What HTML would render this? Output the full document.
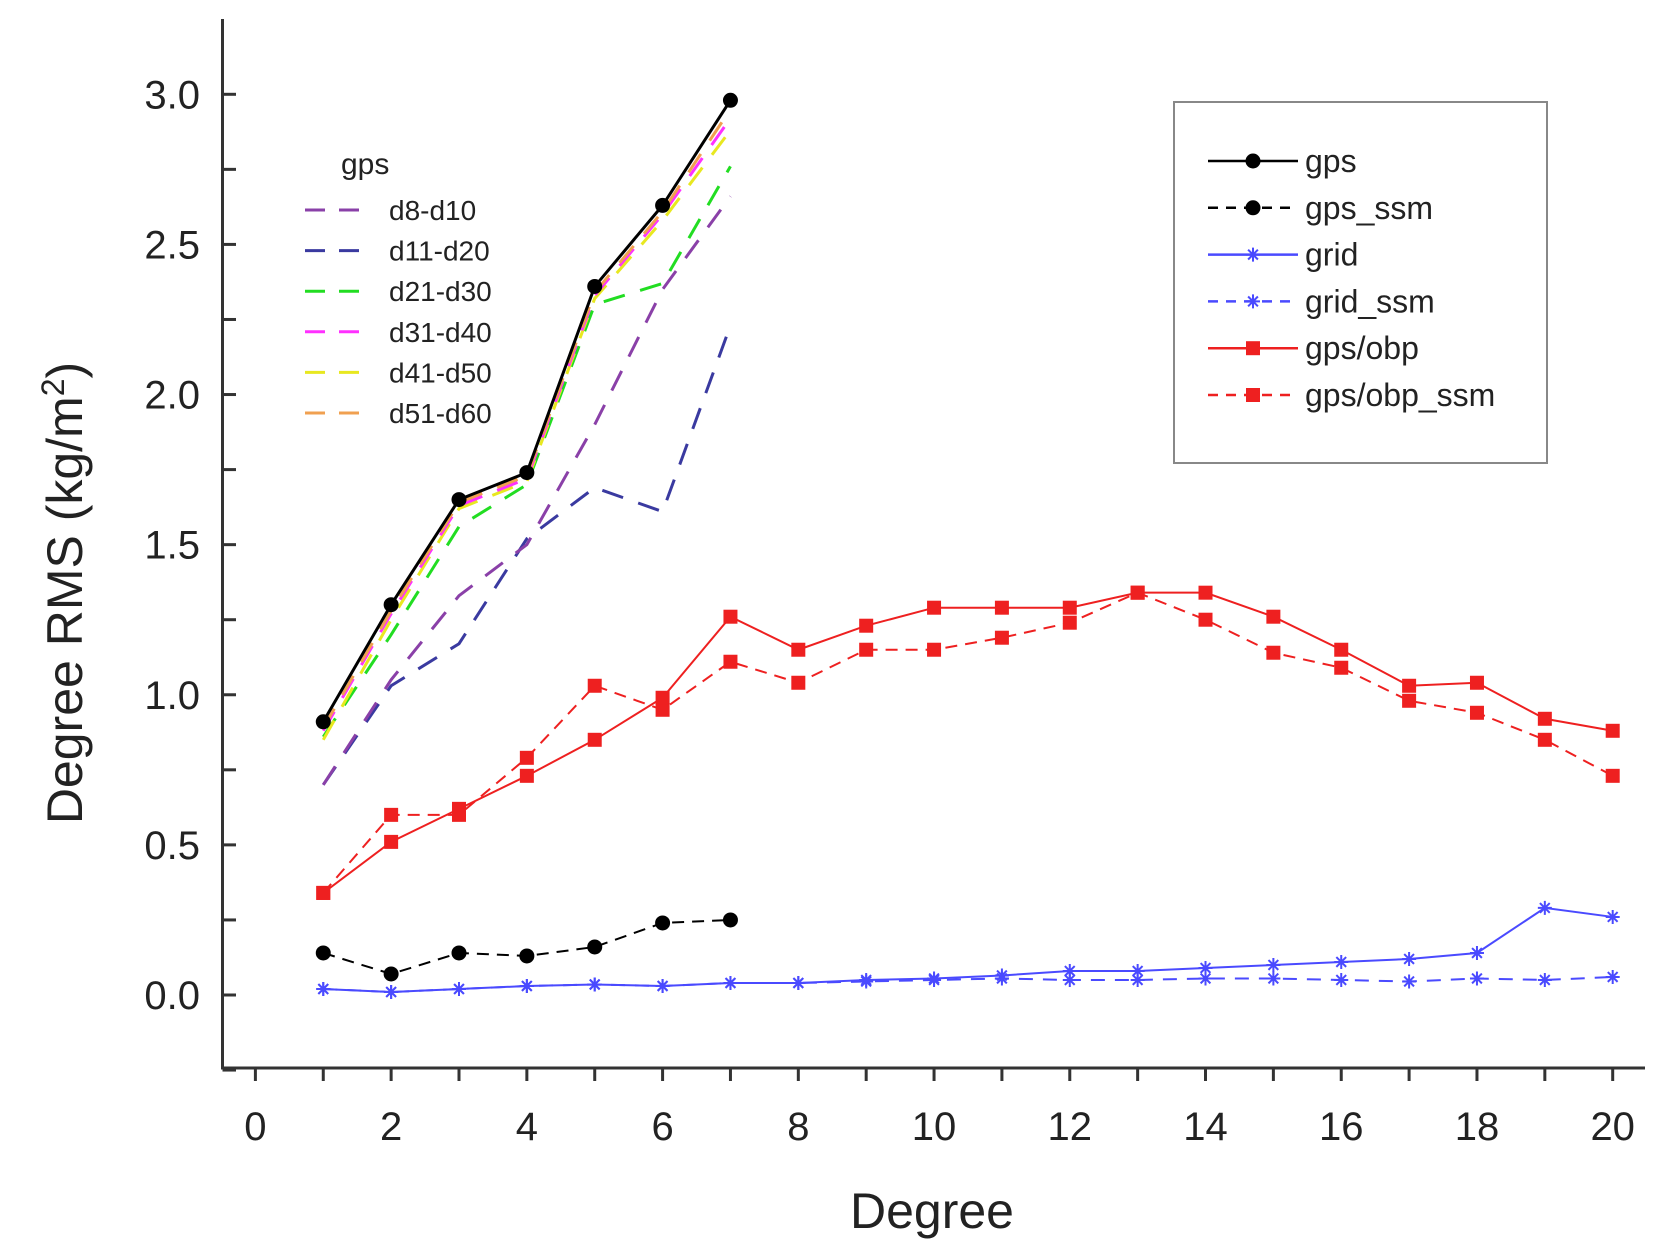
<!DOCTYPE html>
<html><head><meta charset="utf-8"><style>
html,body{margin:0;padding:0;background:#fff;}
svg{display:block;font-family:"Liberation Sans",sans-serif;}
</style></head>
<body>
<svg id="chart" width="1653" height="1255" viewBox="0 0 1653 1255" xmlns="http://www.w3.org/2000/svg"></svg>
<script>
const degrees = [1,2,3,4,5,6,7,8,9,10,11,12,13,14,15,16,17,18,19,20];
const gpsVals = [0.91,1.30,1.65,1.74,2.36,2.63,2.98];
const d8d10 = [0.70,1.05,1.33,1.50,1.90,2.35,2.66];
const d11d20 = [0.70,1.03,1.17,1.52,1.69,1.61,2.23];
const d21d30 = [0.86,1.20,1.56,1.70,2.30,2.37,2.76];
const d31d40 = [0.88,1.27,1.63,1.72,2.33,2.60,2.92];
const d41d50 = [0.85,1.25,1.62,1.71,2.32,2.58,2.88];
const d51d60 = [0.89,1.28,1.64,1.73,2.34,2.61,2.95];
const gpsSsm = [0.14,0.07,0.14,0.13,0.16,0.24,0.25];
const gridVals = [0.02,0.01,0.02,0.03,0.035,0.03,0.04,0.04,0.05,0.055,0.065,0.08,0.08,0.09,0.10,0.11,0.12,0.14,0.29,0.26];
const gridSsm = [0.02,0.01,0.02,0.03,0.035,0.03,0.04,0.04,0.045,0.05,0.055,0.05,0.05,0.055,0.055,0.05,0.045,0.055,0.05,0.06];
const obpVals = [0.34,0.51,0.62,0.73,0.85,0.99,1.26,1.15,1.23,1.29,1.29,1.29,1.34,1.34,1.26,1.15,1.03,1.04,0.92,0.88];
const obpSsm = [0.34,0.60,0.60,0.79,1.03,0.95,1.11,1.04,1.15,1.15,1.19,1.24,1.34,1.25,1.14,1.09,0.98,0.94,0.85,0.73];
const xTickLabels = [0,2,4,6,8,10,12,14,16,18,20];
const yTickLabels = ["0.0","0.5","1.0","1.5","2.0","2.5","3.0"];

const NS="http://www.w3.org/2000/svg";
const svg=document.getElementById('chart');
const X0=255.4, XS=(1612.7-255.4)/20;
const Y0=995, YS=(995-94.3)/3;
const sx=v=>X0+v*XS, sy=v=>Y0-v*YS;
function mk(tag,attrs,parent){const e=document.createElementNS(NS,tag);for(const k in attrs)e.setAttribute(k,attrs[k]);(parent||svg).appendChild(e);return e;}

// axes
let ax=mk('line',{x1:222.5,y1:19,x2:222.5,y2:1068,stroke:'#333','stroke-width':3});


let bx=mk('line',{x1:221,y1:1068,x2:1645,y2:1068,stroke:'#333','stroke-width':3});


for(let v=-0.25;v<=3.3;v+=0.25){const y=sy(v);if(y<25)continue;mk('line',{x1:222.5,y1:y,x2:236,y2:y,stroke:'#333','stroke-width':3});}
yTickLabels.forEach(t=>{const e=mk('text',{x:200,y:sy(+t)+14,'text-anchor':'end','font-size':40,fill:'#222'});e.textContent=t;

});
for(let v=0;v<=21;v++){const x=sx(v);if(x>1645)break;mk('line',{x1:x,y1:1068,x2:x,y2:1081,stroke:'#333','stroke-width':3});}
xTickLabels.forEach(t=>{const e=mk('text',{x:sx(t),y:1140,'text-anchor':'middle','font-size':40,fill:'#222'});e.textContent=t;

});
let xt=mk('text',{x:932,y:1228,'text-anchor':'middle','font-size':50,fill:'#222'});xt.textContent='Degree';


let yt=mk('text',{x:0,y:0,'text-anchor':'middle','font-size':50,fill:'#222',transform:'translate(82,593) rotate(-90)'});
yt.innerHTML='Degree RMS (kg/m<tspan dy="-18" font-size="32">2</tspan><tspan dy="18">)</tspan>';



function marker(type,x,y,color,g){
 if(type==='circle')mk('circle',{cx:x,cy:y,r:7.5,fill:color},g);
 else if(type==='square')mk('rect',{x:x-7,y:y-7,width:14,height:14,fill:color},g);
 else if(type==='star'){const r=7;mk('path',{d:`M${x-r} ${y}H${x+r}M${x-r*.7} ${y-r*.7}L${x+r*.7} ${y+r*.7}M${x-r*.7} ${y+r*.7}L${x+r*.7} ${y-r*.7}M${x} ${y-r}V${y+r}`,stroke:color,'stroke-width':2,fill:'none'},g);}
}
function series(name,vals,color,dash,mtype,w){
 const g=mk('g',{});
 
 
 const pts=vals.map((v,i)=>sx(degrees[i])+','+sy(v)).join(' ');
 const a={points:pts,fill:'none',stroke:color,'stroke-width':w||2.5};if(dash)a['stroke-dasharray']=dash;
 mk('polyline',a,g);
 if(mtype)vals.forEach((v,i)=>marker(mtype,sx(degrees[i]),sy(v),color,g));
}
series('series-d11-d20',d11d20,'#3a3aa0','22 16',null,3);
series('series-d8-d10',d8d10,'#8a40a8','22 16',null,3);
series('series-d21-d30',d21d30,'#22dd22','22 16',null,3);
series('series-d41-d50',d41d50,'#e8e820','22 16',null,3);
series('series-d31-d40',d31d40,'#ff30ff','22 16',null,3);
series('series-d51-d60',d51d60,'#f0a050','22 16',null,3);
series('series-gps',gpsVals,'#000',null,'circle',3);
series('series-gps-ssm',gpsSsm,'#000','12 8','circle',2);
series('series-grid-ssm',gridSsm,'#4a4aff','14 10','star',2);
series('series-grid',gridVals,'#4a4aff',null,'star',2);
series('series-gps-obp-ssm',obpSsm,'#ee2020','12 8','square',2);
series('series-gps-obp',obpVals,'#ee2020',null,'square',2);

// inset legend
let ig=mk('g',{});


let it=mk('text',{x:341,y:174,'font-size':30,fill:'#222'},ig);it.textContent='gps';
const insetNames=['d8-d10','d11-d20','d21-d30','d31-d40','d41-d50','d51-d60'];
const insetColors=['#8a40a8','#3a3aa0','#22dd22','#ff30ff','#e8e820','#f0a050'];
insetNames.forEach((n,i)=>{const y=210+i*40.6;
 const e=mk('g',{},ig);
 
 
 mk('line',{x1:305,y1:y,x2:366,y2:y,stroke:insetColors[i],'stroke-width':3,'stroke-dasharray':'20 14'},e);
 const t=mk('text',{x:389,y:y+10,'font-size':28,fill:'#222'},e);t.textContent=n;});

// main legend
let lg=mk('g',{});


mk('rect',{x:1174,y:102,width:373,height:361,fill:'#fff',stroke:'#888','stroke-width':2},lg);
const legNames=['gps','gps_ssm','grid','grid_ssm','gps/obp','gps/obp_ssm'];
const legColors=['#000','#000','#4a4aff','#4a4aff','#ee2020','#ee2020'];
const legDash=[null,'10 8',null,'10 8',null,'10 8'];
const legMark=['circle','circle','star','star','square','square'];
legNames.forEach((n,i)=>{const y=161+i*46.8;
 const e=mk('g',{},lg);
 
 
 const a={x1:1208,y1:y,x2:1298,y2:y,stroke:legColors[i],'stroke-width':2.5};if(legDash[i])a['stroke-dasharray']=legDash[i];
 mk('line',a,e);marker(legMark[i],1253,y,legColors[i],e);
 const t=mk('text',{x:1305,y:y+11,'font-size':32,fill:'#222'},e);t.textContent=n;});
</script>
</body></html>
